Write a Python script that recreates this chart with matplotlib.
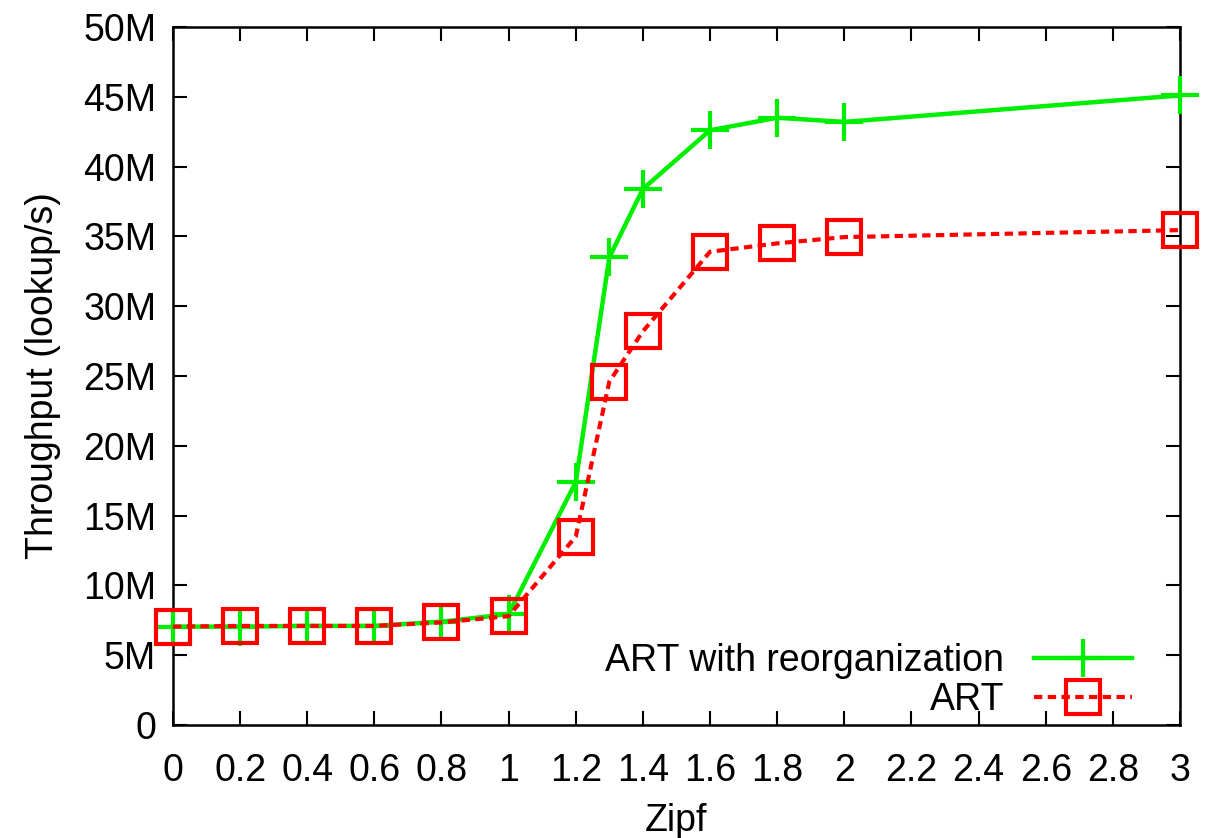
import matplotlib
matplotlib.use("Agg")
import matplotlib.pyplot as plt

plt.rcParams['font.family'] = ['Liberation Sans', 'DejaVu Sans']

zipf = [0, 0.2, 0.4, 0.6, 0.8, 1.0, 1.2, 1.3, 1.4, 1.6, 1.8, 2.0, 3.0]
art_reorg = [7.05, 7.05, 7.1, 7.1, 7.4, 7.95, 17.4, 33.5, 38.4, 42.6, 43.5, 43.2, 45.1]
art = [7.05, 7.1, 7.1, 7.1, 7.35, 7.8, 13.5, 24.6, 28.2, 33.9, 34.5, 34.95, 35.45]

xticks = [0, 0.2, 0.4, 0.6, 0.8, 1, 1.2, 1.4, 1.6, 1.8, 2, 2.2, 2.4, 2.6, 2.8, 3]
yticks = [0, 5, 10, 15, 20, 25, 30, 35, 40, 45, 50]
ylabels = ['0'] + ['%dM' % v for v in yticks[1:]]

fig = plt.figure(figsize=(12.07, 8.38), dpi=100)
ax = fig.add_axes([0.1433, 0.1348, 0.8343, 0.833])

ax.plot(zipf, art_reorg, color='#00ee00', lw=3.2, marker='+', ms=27, mew=3,
        label='ART with reorganization', clip_on=False, zorder=3)
ax.plot(zipf, art, color='#ff0000', lw=3, ls=(0, (2, 1.3)), marker='s', ms=24,
        mew=3, mfc='none', label='ART', clip_on=False, zorder=4)

ax.set_xlim(0, 3)
ax.set_ylim(0, 50)
ax.set_xticks(xticks)
ax.set_xticklabels(['%g' % v for v in xticks])
ax.set_yticks(yticks)
ax.set_yticklabels(ylabels)
ax.tick_params(direction='in', length=10, width=1.5, top=True, right=True,
               labelsize=27)
ax.tick_params(axis='x', pad=20)
ax.tick_params(axis='y', pad=12)
for s in ax.spines.values():
    s.set_linewidth(1.8)

ax.set_xlabel('Zipf', fontsize=27, labelpad=10)
ax.set_ylabel('Throughput (lookup/s)', fontsize=27, labelpad=16)

ax.legend(loc='lower right', frameon=False, markerfirst=False, fontsize=27,
          handlelength=2.6, handletextpad=0.8, labelspacing=0.07,
          borderpad=0, borderaxespad=0, bbox_to_anchor=(0.952, 0.010))

fig.savefig('out.png', dpi=100)
